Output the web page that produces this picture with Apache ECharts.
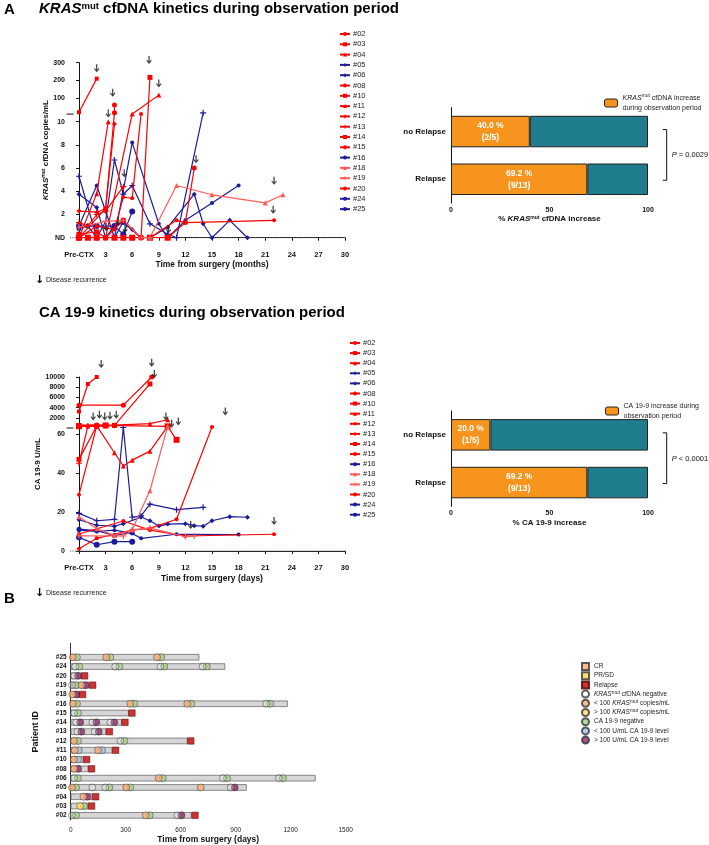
<!DOCTYPE html>
<html><head><meta charset="utf-8">
<script src="https://cdn.jsdelivr.net/npm/echarts@6/dist/echarts.min.js"></script>
<style>html,body{margin:0;padding:0;background:#fff}#c{width:709px;height:845px}</style>
</head><body><div id="c"></div>
<script>
const FONT = '"Liberation Sans", Arial, Helvetica, sans-serif';

// ================= DATA =================
const patients = ['#02','#03','#04','#05','#06','#08','#10','#11','#12','#13','#14','#15','#16','#18','#19','#20','#24','#25'];

// KRASmut cfDNA (copies/mL, 0 = ND) vs time from surgery (months)
const kras02 = [[0,0],[1,0],[3,0],[5,0],[8,0],[11,1.5],[12,1.3],[22,1.5]];
const kras03 = [[0,20.7],[2,210]];
const kras04 = [[0,0],[2,3.8],[3.3,10]];
const kras05 = [[0,5.3],[2,0],[3,1.4],[4,6.7],[5,3.75],[6,4.5],[8,1.2],[10,0.3],[11,0],[14,17]];
const kras06 = [[0,3.75],[2,2.6],[3,0],[4,0],[5,1.4],[6,0.7],[7,0],[8,0],[10,0.9],[13,3.75],[14,1.2],[15,0],[17,1.5],[19,0]];
const kras08 = [[0,0],[3,2.5],[4,17],[4,61]];
const kras10 = [[0,0.3],[2,0.5],[3,0],[5,1.5],[7,0],[8,217]];
const kras11 = [[0,0],[1,0],[3,0],[6,11],[9,117]];
const kras12 = [[0,2.3],[2,2.2],[3,2.5],[4,9.8]];
const kras13 = [[0,1.3],[1,1.0],[2,2.0],[3,2.3],[5,4.4]];
const kras14 = [[0,0],[1,0],[2,0],[4,0],[5,0],[6,0],[8,0],[10,0]];
const kras15 = [[0,0],[2,1.0],[4,0.7],[5,3.5],[6,3.4],[7,11]];
const kras16 = [[0,1.0],[2,4.5],[3,2.3],[4,0],[6,8.2],[9,1.2],[10,0],[12,1.5],[15,3.0],[18,4.5]];
const kras18 = [[8,0],[11,4.5],[15,3.7],[21,3.0],[23,3.7]];
const kras19 = [[0,0.9],[3,1.4],[5,1.5],[7,0],[8,0]];
const kras20 = [[10,0],[12,1.3],[13,6.0]];
const kras24 = [[0,0.8],[1,1.0],[2,0],[3,0],[4,1.0],[5,1.3],[7,0],[8,0]];
const kras25 = [[0,1.0],[2,1.0],[4,1.0],[5,0.3],[6,2.25]];
const krasArrows = [[2,268],[3.8,130],[3.3,13],[7.9,315],[9,183],[5.1,5.55],[13.2,6.76],[22,4.9],[21.9,2.4],[3.05,0.9],[4.4,1.4],[5.2,0.75],[10.1,0.72]];
const krasTicks = [0,2,4,6,8,10,100,200,300];
const krasTickLabels = ['ND','2','4','6','8','10','100','200','300'];

// CA 19-9 (U/mL)
const ca02 = [[0,8.7],[5,15.4],[8,10.7],[12,7.7],[22,8.6]];
const ca03 = [[0,3237],[1,8636],[2,10000]];
const ca04 = [[0,500],[1,400],[2,450],[3,500],[4,550],[8,840],[10,1619]];
const ca05 = [[0,19.3],[2,15.5],[4,16.2],[5,100],[6,17.3],[7,18],[8,24],[11,21.2],[14,22.4]];
const ca06 = [[0,16],[2,13.2],[4,12.7],[5,14],[7,17.4],[8,15.5],[9,12.8],[10,13.8],[12,14],[13,13],[14,12.7],[15,15.5],[17,17.6],[19,17.3]];
const ca08 = [[0,4484],[5,4484],[8.2,10000]];
const ca10 = [[0,47],[2,400],[4,510],[8,8636]];
const ca11 = [[0,300],[2,400],[4,50.4],[5,43.6],[6,46.6],[8,51.2],[10,300]];
const ca12 = [[0,28.9],[2,420]];
const ca13 = [[0,45],[1,380],[3,420]];
const ca14 = [[0,350],[3,500],[10,320],[11,57]];
const ca15 = [[0,1.2],[2,6.5],[6,10.7],[8,11.6],[11,16.3],[15,200]];
const ca16 = [[0,10.7],[2,10],[4,10.7],[6,9],[7,6.5],[11,8.6],[18,8.4]];
const ca18 = [[0,17.6],[2,11.4],[4,8],[6,11],[8,30.9],[10,300]];
const ca19 = [[0,7.8],[5,7.7],[6,10.8],[8,11.7],[12,7.4],[13,7.7]];
const ca20 = [[0,550],[2,600],[4,450]];
const ca24 = [[0,11.2],[2,10.4],[4,8.0],[6,9.5]];
const ca25 = [[0,7],[2,3.2],[4,4.8],[6,4.8]];
const caArrows = [[2.5,12534],[8.2,12787],[8.5,10585],[1.6,2262],[2.3,2594],[2.9,2262],[3.5,2400],[4.2,2594],[9.8,2262],[10.45,840],[11.2,1287],[16.5,3237],[12.6,13.3],[22,15.4]];
const caTicks = [0,20,40,60,2000,4000,6000,8000,10000];
const caTickLabels = ['0','20','40','60','2000','4000','6000','8000','10000'];

// Increase bars
const groupCats = ['Relapse','no Relapse'];
const krasIncPct = [69.2, 40.0];
const krasIncFrac = ['9/13','2/5'];
const caIncPct = [69.2, 20.0];
const caIncFrac = ['9/13','1/5'];
const krasP = '= 0.0029';
const caP = '< 0.0001';

// Swimmer plot (days)
const obsEnd = [660,97,119,960,1336,97,70,228,637,193,279,317,1184,48,102,59,843,702];
const relapsePatients = ['#02','#03','#04','#08','#10','#11','#12','#13','#14','#15','#18','#19','#20'];
const relapseDay = [678,114,136,114,87,245,655,211,296,334,65,120,76];
const krasNegEvents = [[36,'#24'],[254,'#24'],[500,'#24'],[731,'#24'],[29,'#20'],[18,'#19'],[1078,'#16'],[29,'#15'],[41,'#14'],[129,'#14'],[227,'#14'],[47,'#13'],[142,'#13'],[282,'#12'],[29,'#06'],[842,'#06'],[1147,'#06'],[129,'#05'],[200,'#05'],[884,'#05'],[18,'#02'],[593,'#02']];
const krasLowEvents = [[23,'#25'],[205,'#25'],[482,'#25'],[70,'#19'],[20,'#18'],[23,'#16'],[336,'#16'],[647,'#16'],[29,'#12'],[33,'#11'],[160,'#11'],[29,'#10'],[30,'#08'],[491,'#06'],[18,'#05'],[314,'#05'],[720,'#05'],[80,'#04'],[420,'#02']];
const krasHighEvents = [[62,'#03']];
const caNegEvents = [[23,'#25'],[205,'#25'],[482,'#25'],[36,'#24'],[254,'#24'],[500,'#24'],[731,'#24'],[18,'#19'],[23,'#16'],[336,'#16'],[647,'#16'],[1078,'#16'],[29,'#15'],[29,'#12'],[282,'#12'],[29,'#06'],[491,'#06'],[842,'#06'],[1147,'#06'],[18,'#05'],[200,'#05'],[314,'#05'],[62,'#03'],[18,'#02'],[420,'#02']];
const caLowEvents = [[33,'#11'],[160,'#11'],[29,'#10']];
const caHighEvents = [[29,'#20'],[70,'#19'],[20,'#18'],[41,'#14'],[129,'#14'],[227,'#14'],[47,'#13'],[142,'#13'],[30,'#08'],[884,'#05'],[80,'#04'],[593,'#02']];
const crEvents = [];
const prsdEvents = [];

// ================= SCALES (broken axes) =================
const K_LO = 10, K_UP0 = 10.66, K_UPMAX = 15.09, K_UPTOP = 300;
function tK(v){ return v <= K_LO ? v : K_UP0 + (v - K_LO) * (K_UPMAX - K_UP0) / (K_UPTOP - K_LO); }
const C_LO = 60, C_UP0 = 63.08, C_UPMAX = 89.23, C_UPTOP = 10000;
function tC(v){ return v <= C_LO ? v : C_UP0 + v * (C_UPMAX - C_UP0) / C_UPTOP; }

// ================= STYLES =================
const RED = '#ff0000', RED2 = '#ff5a5a', NAVY = '#1c1c9a';
const PLUS = 'path://M4,0 H6 V4 H10 V6 H6 V10 H4 V6 H0 V4 H4 Z';
const ARROW = 'path://M3,0 L5,0 L5,7 L7.6,4.6 L8,6.4 L4,10.5 L0,6.4 L0.4,4.6 L3,7 Z';
const pStyle = [
 {c:RED,s:'circle',z:4},{c:RED,s:'rect',z:4},{c:RED,s:'triangle',z:5},{c:NAVY,s:PLUS,z:6},
 {c:NAVY,s:'diamond',z:5},{c:RED,s:'circle',z:5},{c:RED,s:'rect',z:5},{c:RED,s:'triangle',z:5},
 {c:RED,s:'diamond',z:5},{c:RED,s:PLUS,z:6},{c:RED,s:'rect',z:6},{c:RED,s:'circle',z:4},
 {c:NAVY,s:'circle',z:4},{c:RED2,s:'triangle',z:5},{c:RED2,s:PLUS,z:6},{c:RED,s:'circle',z:5},
 {c:NAVY,s:'circle',z:5},{c:NAVY,s:'circle',z:6}
];
const krasSets = [kras02,kras03,kras04,kras05,kras06,kras08,kras10,kras11,kras12,kras13,kras14,kras15,kras16,kras18,kras19,kras20,kras24,kras25];
const caSets = [ca02,ca03,ca04,ca05,ca06,ca08,ca10,ca11,ca12,ca13,ca14,ca15,ca16,ca18,ca19,ca20,ca24,ca25];

const B = {fontFamily:FONT, fontWeight:'bold', color:'#111'};
const richMut = (fs) => ({
  i:{fontFamily:FONT, fontStyle:'italic', fontWeight:'bold', fontSize:fs, color:'#111'},
  s:{fontFamily:FONT, fontWeight:'bold', fontSize:Math.round(fs*0.62), verticalAlign:'top', color:'#111'},
  n:{fontFamily:FONT, fontWeight:'bold', fontSize:fs, color:'#111'}
});
const richMutPlain = (fs, lh) => ({
  i:{fontFamily:FONT, fontStyle:'italic', fontSize:fs, color:'#222', lineHeight:lh},
  s:{fontFamily:FONT, fontSize:Math.round(fs*0.7), verticalAlign:'top', color:'#222', lineHeight:lh},
  n:{fontFamily:FONT, fontSize:fs, color:'#222', lineHeight:lh}
});

// ================= SERIES =================
const series = [];
patients.forEach((p,i)=>{
  const st = pStyle[i];
  const common = {type:'line', name:p, symbol:st.s, symbolSize:st.z, showSymbol:true,
    lineStyle:{color:st.c, width:1.2}, itemStyle:{color:st.c}, z: st.c===NAVY?3:4};
  series.push(Object.assign({}, common, {xAxisIndex:0, yAxisIndex:0, data: krasSets[i].map(d=>[d[0], tK(d[1])])}));
  series.push(Object.assign({}, common, {xAxisIndex:1, yAxisIndex:1, data: caSets[i].map(d=>[d[0], tC(d[1])])}));
});
series.push({type:'scatter', name:'arrowK', xAxisIndex:0, yAxisIndex:0, symbol:ARROW, symbolSize:[5,8], clip:false,
  itemStyle:{color:'#111'}, data: krasArrows.map(d=>[d[0], tK(d[1])]), z:6});
series.push({type:'scatter', name:'arrowC', xAxisIndex:1, yAxisIndex:1, symbol:ARROW, symbolSize:[5,8], clip:false,
  itemStyle:{color:'#111'}, data: caArrows.map(d=>[d[0], tC(d[1])]), z:6});

const ORANGE = '#f7941d', TEAL = '#1f7d8e';
function incBars(idx, pct, frac, name){
  return [
    {type:'bar', name:name, xAxisIndex:idx, yAxisIndex:idx, stack:'s'+idx, barWidth:31.5, data:pct,
     itemStyle:{color:ORANGE, borderColor:'#222', borderWidth:1},
     label:{show:true, position:'inside', color:'#fff', fontFamily:FONT, fontWeight:'bold', fontSize:8.5, lineHeight:12,
       formatter:(p)=> p.value.toFixed(1)+' %\n('+frac[p.dataIndex]+')'}},
    {type:'bar', name:name+' rest', xAxisIndex:idx, yAxisIndex:idx, stack:'s'+idx, barWidth:31.5, data:pct.map(v=>+(100-v).toFixed(1)),
     itemStyle:{color:TEAL, borderColor:'#222', borderWidth:1}}
  ];
}
const KINC = 'KRASmut cfDNA increase during observation period';
const CINC = 'CA 19-9 increase during observation period';
series.push(...incBars(2, krasIncPct, krasIncFrac, KINC));
series.push(...incBars(3, caIncPct, caIncFrac, CINC));

// swimmer
const swCats = patients.concat(['']);
series.push({type:'bar', name:'obs', xAxisIndex:4, yAxisIndex:4, barWidth:6.5, data:obsEnd,
  itemStyle:{color:'#d6d6d6', borderColor:'#6e6e6e', borderWidth:0.8}, z:2});
const circ = (name, data, color, off, z, fill) => ({type:'scatter', name, xAxisIndex:4, yAxisIndex:4, data,
  symbol:'circle', symbolSize:7, symbolOffset:[off,0], z,
  itemStyle:{color: fill || color, borderColor:'#333', borderWidth:0.6}});
series.push({type:'scatter', name:'CR', xAxisIndex:4, yAxisIndex:4, data:crEvents, symbol:'rect', symbolSize:7, itemStyle:{color:'#f6a96b', borderColor:'#333', borderWidth:0.5}});
series.push({type:'scatter', name:'PR/SD', xAxisIndex:4, yAxisIndex:4, data:prsdEvents, symbol:'rect', symbolSize:7, itemStyle:{color:'#ffd24d', borderColor:'#333', borderWidth:0.5}});
series.push({type:'scatter', name:'Relapse', xAxisIndex:4, yAxisIndex:4, data:relapsePatients.map((p,i)=>[relapseDay[i],p]),
  symbol:'rect', symbolSize:6.5, z:6, itemStyle:{color:'#c00000', borderColor:'#4a0000', borderWidth:0.6}});
series.push(circ('KRASmut cfDNA negative', krasNegEvents, '#ffffff', -2, 5, 'rgba(255,255,255,0.25)'));
series.push(circ('< 100 KRASmut copies/mL', krasLowEvents, '#f8ad78', -2, 5));
series.push(circ('> 100 KRASmut copies/mL', krasHighEvents, '#ffd966', -2, 5));
series.push(circ('CA 19-9 negative', caNegEvents, '#a9d18e', 2, 4));
series.push(circ('< 100 U/mL CA 19-9 level', caLowEvents, '#9dc3e6', 2, 4));
series.push(circ('> 100 U/mL CA 19-9 level', caHighEvents, '#8b2a68', 2, 4));

// ================= AXES =================
function lineX(gi, nameText){
  return {gridIndex:gi, type:'value', min:0, max:30, interval:3, offset:9,
    axisLine:{lineStyle:{color:'#111', width:1}}, axisTick:{length:3, lineStyle:{color:'#111'}},
    axisLabel:{...B, fontSize:7.5, margin:4, formatter:v=> v===0?'Pre-CTX':String(v)},
    splitLine:{show:false}, name:nameText, nameLocation:'middle', nameGap:13,
    nameTextStyle:{...B, fontSize:8.5}};
}
function lineY(gi, ticks, labels, tf, max, name, gap, rich){
  const cv = ticks.map(tf);
  return {gridIndex:gi, type:'value', min:0, max:max, offset:9,
    axisLine:{show:true, lineStyle:{color:'#111', width:1}},
    axisTick:{show:true, length:3, customValues:cv, lineStyle:{color:'#111'}},
    axisLabel:{...B, fontSize:7, margin:5, customValues:cv,
      formatter:(v)=>{ for(let k=0;k<cv.length;k++){ if(Math.abs(cv[k]-v)<1e-6) return labels[k]; } return ''; }},
    splitLine:{show:false}, name:name, nameLocation:'middle', nameGap:gap, nameRotate:90,
    nameTextStyle:Object.assign({...B, fontSize:8}, rich?{rich:rich}:{})};
}
function barX(gi, name){
  return {gridIndex:gi, type:'value', min:0, max:100, interval:50,
    axisLine:{lineStyle:{color:'#111'}}, axisTick:{length:3, lineStyle:{color:'#111'}},
    axisLabel:{...B, fontSize:7, margin:3}, splitLine:{show:false},
    name:name, nameLocation:'middle', nameGap:12, nameTextStyle:{...B, fontSize:8, rich:richMut(8)}};
}
function barY(gi){
  return {gridIndex:gi, type:'category', data:groupCats,
    axisLine:{lineStyle:{color:'#111'}}, axisTick:{length:3, alignWithLabel:true, lineStyle:{color:'#111'}},
    axisLabel:{...B, fontSize:8, margin:5}};
}

const option = {
  animation:false,
  backgroundColor:'#fff',
  textStyle:{fontFamily:FONT},
  grid:[
    {left:79, top:62.7, width:266, height:175},
    {left:79, top:377, width:266, height:174},
    {left:451, top:107.7, width:197, height:95.4},
    {left:451, top:411, width:197, height:95.4},
    {left:70.7, top:643.3, width:275, height:177.7}
  ],
  xAxis:[
    lineX(0,'Time from surgery (months)'),
    Object.assign(lineX(1,'Time from surgery (days)'), {nameGap:14}),
    barX(2,'% {i|KRAS}{s|mut}{n| cfDNA increase}'),
    barX(3,'% CA 19-9 increase'),
    {gridIndex:4, type:'value', min:0, max:1500, interval:150, offset:4,
      axisLine:{lineStyle:{color:'#333'}}, axisTick:{length:3, lineStyle:{color:'#333'}},
      axisLabel:{fontFamily:FONT, fontSize:6.5, color:'#222', margin:3, formatter:v=> v%300===0?String(v):''},
      splitLine:{show:false}, name:'Time from surgery (days)', nameLocation:'middle', nameGap:11,
      nameTextStyle:{...B, fontSize:8.5}}
  ],
  yAxis:[
    lineY(0, krasTicks, krasTickLabels, tK, K_UPMAX, '{i|KRAS}{s|mut}{n| cfDNA copies/mL}', 19, richMut(8)),
    lineY(1, caTicks, caTickLabels, tC, C_UPMAX, 'CA 19-9 U/mL', 24),
    barY(2), barY(3),
    {gridIndex:4, type:'category', data:swCats,
      axisLine:{lineStyle:{color:'#333'}},
      axisTick:{length:3, alignWithLabel:true, interval:(i)=> i<patients.length, lineStyle:{color:'#333'}},
      axisLabel:{...B, fontSize:6.5, margin:4, interval:0},
      name:'Patient ID', nameLocation:'middle', nameGap:31, nameRotate:90, nameTextStyle:{...B, fontSize:9}}
  ],
  legend:[
    {data:patients, orient:'vertical', left:334, top:25, itemWidth:10, itemHeight:5, itemGap:2.3, selectedMode:false,
      textStyle:{fontFamily:FONT, fontSize:7.5, color:'#222', padding:[0,0,0,-2]}},
    {data:patients, orient:'vertical', left:344, top:334, itemWidth:10, itemHeight:5, itemGap:2.1, selectedMode:false,
      textStyle:{fontFamily:FONT, fontSize:7.5, color:'#222', padding:[0,0,0,-2]}},
    {data:[KINC], left:599, top:88, itemWidth:13, itemHeight:8, itemTextGap:6, selectedMode:false,
      formatter:()=> '{i|KRAS}{s|mut}{n| cfDNA increase}\n{n|during observation period}',
      textStyle:{fontSize:7, lineHeight:10, rich:richMutPlain(7, 10)},
      itemStyle:{borderColor:'#222', borderWidth:1}},
    {data:[CINC], left:600, top:396, itemWidth:13, itemHeight:8, itemTextGap:6, selectedMode:false,
      formatter:()=> 'CA 19-9 increase during\nobservation period',
      textStyle:{fontFamily:FONT, fontSize:7, lineHeight:10, color:'#222'},
      itemStyle:{borderColor:'#222', borderWidth:1}},
    {data:['CR','PR/SD','Relapse','KRASmut cfDNA negative','< 100 KRASmut copies/mL','> 100 KRASmut copies/mL','CA 19-9 negative','< 100 U/mL CA 19-9 level','> 100 U/mL CA 19-9 level'],
      orient:'vertical', left:576, top:657, itemWidth:7, itemHeight:7, itemGap:0.2, selectedMode:false,
      formatter:(n)=> n.indexOf('KRASmut')>=0 ? n.replace('KRASmut','{i|KRAS}{s|mut}{n|').replace(/$/,'}').replace(/^([^{]+)\{i/, '{n|$1}{i') : '{n|'+n+'}',
      textStyle:{fontSize:6.5, lineHeight:8, rich:richMutPlain(6.5, 8)}}
  ],
  series:series
};

const chart = echarts.init(document.getElementById('c'), null, {renderer:'canvas'});
chart.setOption(option);

// ================= ANNOTATION GRAPHICS (positions from the library's scales) =================
function px(i, x, y){ return chart.convertToPixel({xAxisIndex:i, yAxisIndex:i}, [x, y]); }
const G = [];
function breakMarks(i, yLoTop, yUpBot, xMax){
  const ax = px(i,0,0)[0] - 9;
  const yl = px(i,0,yLoTop)[1], yu = px(i,0,yUpBot)[1];
  G.push({type:'rect', shape:{x:ax-2, y:yu+0.8, width:4, height:Math.max(0,yl-yu-1.6)}, style:{fill:'#fff'}, z:50});
  G.push({type:'line', shape:{x1:ax-3.5, y1:yu, x2:ax+3.5, y2:yu}, style:{stroke:'#111', lineWidth:1}, z:51});
  const y0 = px(i,0,0)[1];
  G.push({type:'line', shape:{x1:ax, y1:y0, x2:px(i,xMax,0)[0], y2:y0}, style:{stroke:'#666', lineWidth:1, lineDash:[1.2,1.2]}, z:1});
}
breakMarks(0, K_LO, K_UP0, 30);
breakMarks(1, C_LO, C_UP0, 30);
function bracket(i, ptxt){
  const top = px(i,100,'no Relapse'), bot = px(i,100,'Relapse');
  const bx = top[0] + 18.7;
  G.push({type:'polyline', shape:{points:[[bx-4,top[1]-2],[bx,top[1]-2],[bx,bot[1]+1],[bx-4,bot[1]+1]]}, style:{stroke:'#111', lineWidth:1, fill:null}});
  G.push({type:'text', x:bx+5, y:(top[1]+bot[1])/2, style:{text:'{i|P}{n| '+ptxt+'}', verticalAlign:'middle',
    rich:{i:{fontFamily:FONT, fontStyle:'italic', fontSize:7.5, fill:'#111'}, n:{fontFamily:FONT, fontSize:7.5, fill:'#111'}}}});
}
bracket(2, krasP);
bracket(3, caP);
const titleRich = {i:{fontFamily:FONT, fontStyle:'italic', fontWeight:'bold', fontSize:15, fill:'#000'},
  s:{fontFamily:FONT, fontWeight:'bold', fontSize:9.5, verticalAlign:'top', fill:'#000'},
  n:{fontFamily:FONT, fontWeight:'bold', fontSize:15, fill:'#000'}};
G.push({type:'text', x:4, y:2, style:{text:'A', font:'bold 15px '+FONT, fill:'#000'}});
G.push({type:'text', x:39, y:1, style:{text:'{i|KRAS}{s|mut}{n| cfDNA kinetics during observation period}', rich:titleRich}});
G.push({type:'text', x:39, y:305, style:{text:'CA 19-9 kinetics during observation period', font:'bold 15px '+FONT, fill:'#000'}});
G.push({type:'text', x:4, y:591, style:{text:'B', font:'bold 15px '+FONT, fill:'#000'}});
[[281],[594]].forEach(([y])=>{
  G.push({type:'text', x:35, y:y-6, style:{text:'\u2193', font:'bold 11px "DejaVu Sans"', fill:'#000'}});
  G.push({type:'text', x:46, y:y-4, style:{text:'Disease recurrence', font:'7px '+FONT, fill:'#222'}});
});
chart.setOption({graphic:G});
</script>
</body></html>
